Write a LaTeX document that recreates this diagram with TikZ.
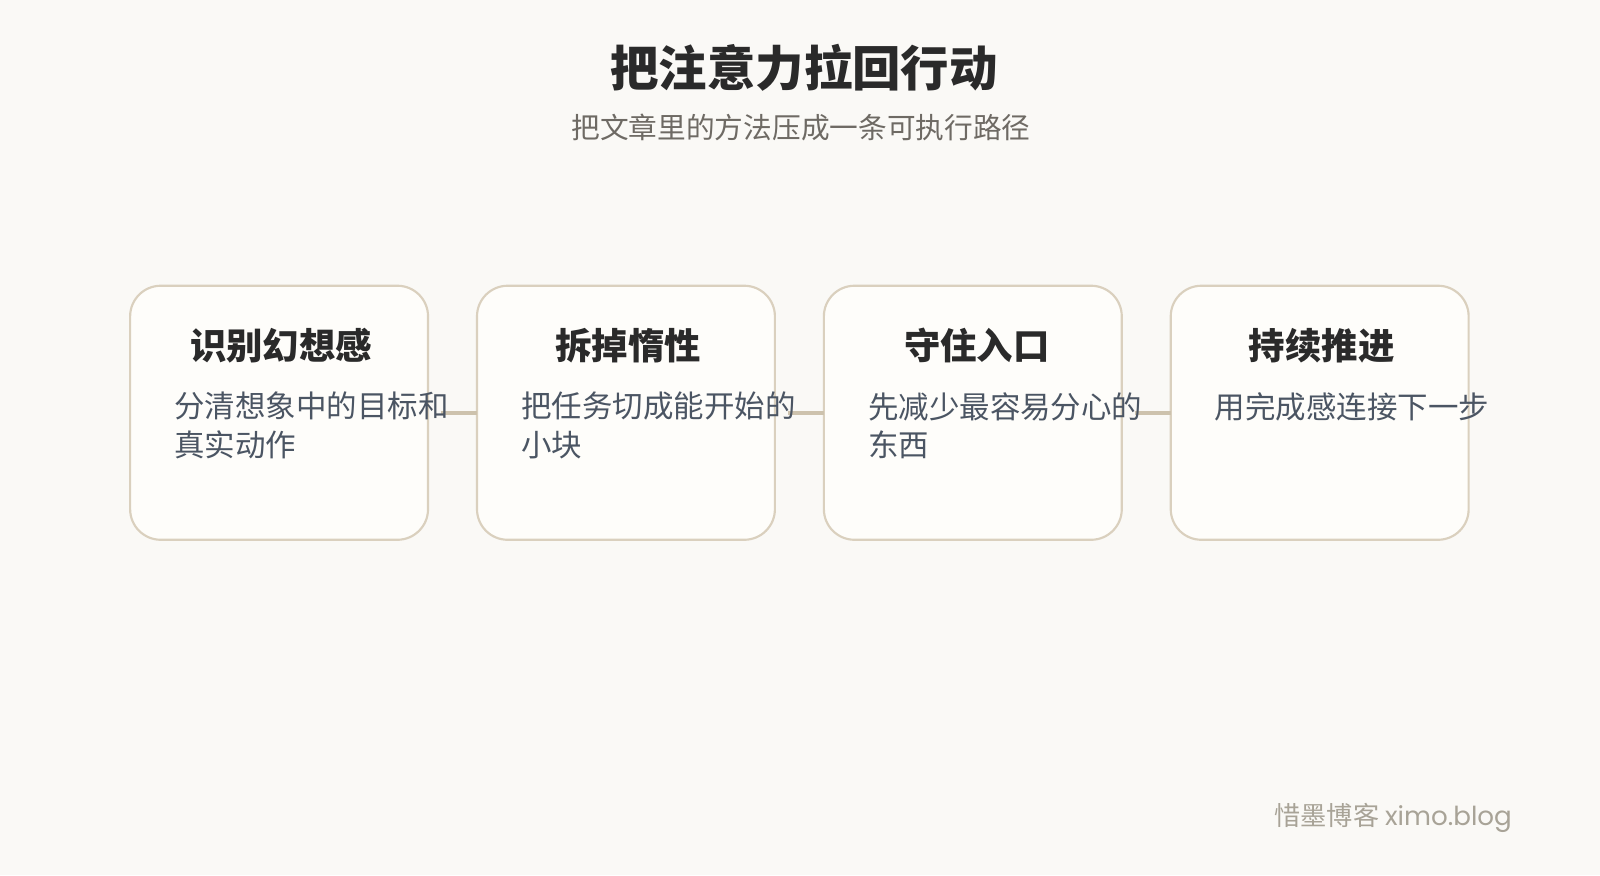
\documentclass[tikz,border=0pt]{standalone}
\usepackage{fontspec}
\setmainfont{Noto Sans CJK SC}
\newfontfamily\footlatin{Poppins}
\usetikzlibrary{positioning}
\usepackage{xcolor}

\definecolor{paperbg}{HTML}{FAF9F6}
\definecolor{cardfill}{HTML}{FEFDFA}
\definecolor{cardline}{HTML}{DAD0BE}
\definecolor{linkline}{HTML}{CDC2AD}
\definecolor{headink}{HTML}{2A2A2A}
\definecolor{subink}{HTML}{6E6A64}
\definecolor{bodyink}{HTML}{4B5563}
\definecolor{footink}{HTML}{A8A397}

\begin{document}
\begin{tikzpicture}[x=0.02cm, y=-0.02cm, every node/.style={inner sep=0pt}]

    \tikzset{
        card/.style={draw=cardline, fill=cardfill, line width=1.2pt, rounded corners=0.6cm,
                     outer sep=0pt, minimum width=5.84cm, minimum height=4.98cm},
        cardhead/.style={text=headink, font=\fontsize{20.3}{24}\selectfont\bfseries},
        cardbody/.style={text=bodyink, align=left, anchor=north west,
                         font=\fontsize{17}{21.6}\selectfont},
        link/.style={draw=linkline, line width=2pt}
    }

    % Background
    \fill[paperbg] (0,0) rectangle (1568,857.5);
    \useasboundingbox (0,0) rectangle (1568,857.5);

    % Title
    \node[text=headink, font=\fontsize{27}{32}\selectfont\bfseries] (title) at (788, 66) {把注意力拉回行动};
    \node[text=subink, font=\fontsize{16}{20}\selectfont] (subtitle) at (785, 125) {把文章里的方法压成一条可执行路径};

    % Step cards
    \node[card] (box1) at (273.5, 404.5) {};
    \node[card, right=0.96cm of box1] (box2) {};
    \node[card, right=0.96cm of box2] (box3) {};
    \node[card, right=0.96cm of box3] (box4) {};

    % Connectors (start a little off the card edge)
    \draw[link] ([xshift=0.25cm]box1.east) -- (box2.west);
    \draw[link] ([xshift=0.25cm]box2.east) -- (box3.west);
    \draw[link] ([xshift=0.25cm]box3.east) -- (box4.west);

    % Card headings
    \path (box1.north) ++(2, 59) node[cardhead] (head1) {识别幻想感};
    \path (box2.north) ++(2, 59) node[cardhead] (head2) {拆掉惰性};
    \path (box3.north) ++(4, 59) node[cardhead] (head3) {守住入口};
    \path (box4.north) ++(2, 59) node[cardhead] (head4) {持续推进};

    % Card texts
    \path (box1.north west) ++(43, 104) node[cardbody] (body1) {分清想象中的目标和\\真实动作};
    \path (box2.north west) ++(43, 104) node[cardbody] (body2) {把任务切成能开始的\\小块};
    \path (box3.north west) ++(43, 104) node[cardbody] (body3) {先减少最容易分心的\\东西};
    \path (box4.north west) ++(43, 104) node[cardbody] (body4) {用完成感连接下一步};

    % Footer
    \node[text=footink, anchor=east, font=\fontsize{14.6}{18}\selectfont] (footer) at (1482, 802) {惜墨博客 {\footlatin ximo.blog}};

\end{tikzpicture}
\end{document}
